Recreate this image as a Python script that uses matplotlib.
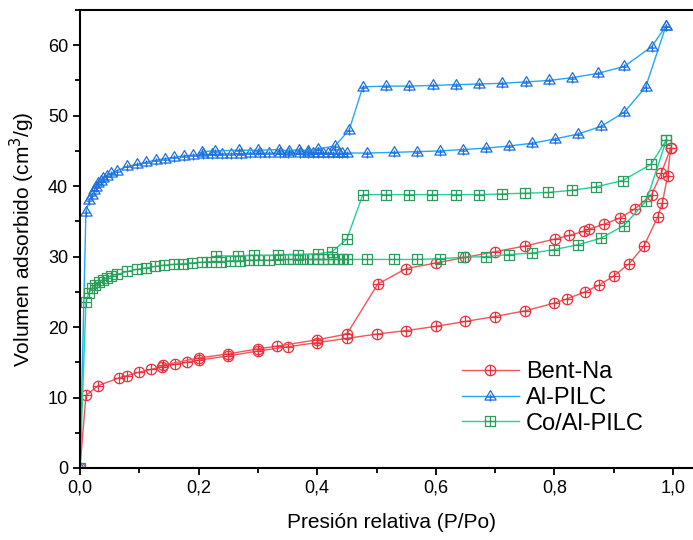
import matplotlib
import matplotlib.pyplot as plt
import numpy as np
from matplotlib.path import Path

matplotlib.use("Agg")

plt.rcParams["font.family"] = ["Liberation Sans", "DejaVu Sans"]

# Bent-Na
bent_ads_x = [0, 0.010, 0.031, 0.066, 0.079, 0.100, 0.120, 0.139, 0.160, 0.180, 0.200,
              0.250, 0.300, 0.350, 0.400, 0.450, 0.500, 0.550, 0.600, 0.650, 0.700,
              0.750, 0.800, 0.821, 0.852, 0.876, 0.901, 0.926, 0.951, 0.974, 0.982,
              0.991, 0.996]
bent_ads_y = [0, 10.3, 11.7, 12.8, 13.1, 13.6, 14.0, 14.4, 14.7, 15.0, 15.3,
              15.9, 16.6, 17.2, 17.8, 18.4, 19.0, 19.5, 20.1, 20.8, 21.5,
              22.3, 23.4, 24.0, 25.0, 26.0, 27.3, 29.0, 31.5, 35.6, 37.6,
              41.5, 45.4]
bent_des_x = [0.996, 0.980, 0.964, 0.936, 0.911, 0.884, 0.858, 0.850, 0.825, 0.801,
              0.750, 0.700, 0.650, 0.600, 0.550, 0.502, 0.450, 0.400, 0.333, 0.300,
              0.250, 0.200, 0.140]
bent_des_y = [45.4, 41.8, 38.8, 36.8, 35.5, 34.6, 33.9, 33.6, 33.0, 32.5,
              31.5, 30.7, 29.9, 29.1, 28.3, 26.1, 19.0, 18.2, 17.3, 16.9,
              16.2, 15.6, 14.6]

# Al-PILC
al_ads_x = [0, 0.010, 0.016, 0.020, 0.024, 0.027, 0.031, 0.035, 0.039, 0.045, 0.053,
            0.062, 0.080, 0.096, 0.112, 0.128, 0.143, 0.159, 0.175, 0.191, 0.207,
            0.223, 0.239, 0.255, 0.271, 0.287, 0.303, 0.319, 0.337, 0.351, 0.371,
            0.384, 0.393, 0.402, 0.410, 0.419, 0.427, 0.436, 0.441, 0.450, 0.484,
            0.530, 0.568, 0.607, 0.646, 0.685, 0.724, 0.763, 0.801, 0.840, 0.879,
            0.918, 0.954, 0.988]
al_ads_y = [0, 36.4, 38.0, 38.7, 39.4, 39.9, 40.4, 40.7, 41.1, 41.4, 41.8,
            42.2, 42.8, 43.1, 43.4, 43.7, 43.9, 44.1, 44.3, 44.4, 44.5,
            44.5, 44.6, 44.6, 44.6, 44.7, 44.7, 44.7, 44.7, 44.7, 44.7,
            44.7, 44.7, 44.7, 44.7, 44.7, 44.7, 44.7, 44.7, 44.7, 44.7,
            44.8, 44.9, 45.0, 45.2, 45.4, 45.7, 46.1, 46.7, 47.4, 48.5,
            50.5, 54.1, 62.7]
al_des_x = [0.988, 0.964, 0.918, 0.873, 0.830, 0.791, 0.752, 0.712, 0.673, 0.634,
            0.595, 0.555, 0.516, 0.477, 0.454, 0.430, 0.402, 0.385, 0.369, 0.352,
            0.336, 0.300, 0.268, 0.228, 0.205]
al_des_y = [62.7, 59.8, 57.0, 56.0, 55.4, 55.0, 54.8, 54.6, 54.5, 54.4,
            54.3, 54.2, 54.2, 54.1, 48.0, 45.7, 45.3, 45.0, 45.2, 45.0,
            45.2, 45.1, 45.1, 45.0, 44.9]

# Co/Al-PILC
co_ads_x = [0, 0.010, 0.015, 0.021, 0.026, 0.032, 0.038, 0.045, 0.053, 0.063, 0.080,
            0.096, 0.111, 0.126, 0.142, 0.158, 0.173, 0.189, 0.205, 0.221, 0.237,
            0.253, 0.269, 0.285, 0.301, 0.318, 0.337, 0.351, 0.360, 0.371, 0.382,
            0.393, 0.402, 0.410, 0.419, 0.427, 0.436, 0.444, 0.450, 0.484, 0.529,
            0.568, 0.607, 0.646, 0.684, 0.723, 0.762, 0.800, 0.840, 0.878, 0.917,
            0.955, 0.989]
co_ads_y = [0, 23.5, 24.9, 25.6, 26.0, 26.4, 26.7, 27.0, 27.3, 27.5, 27.9,
            28.2, 28.4, 28.6, 28.8, 28.9, 29.0, 29.1, 29.2, 29.3, 29.3,
            29.4, 29.4, 29.5, 29.5, 29.5, 29.6, 29.6, 29.6, 29.6, 29.6,
            29.6, 29.6, 29.6, 29.6, 29.6, 29.6, 29.6, 29.6, 29.6, 29.6,
            29.6, 29.7, 29.9, 30.0, 30.3, 30.5, 31.0, 31.7, 32.6, 34.4,
            37.9, 46.6]
co_des_x = [0.989, 0.963, 0.915, 0.870, 0.829, 0.789, 0.750, 0.712, 0.673, 0.634,
            0.594, 0.555, 0.516, 0.477, 0.450, 0.425, 0.401, 0.368, 0.334, 0.294,
            0.267, 0.229]
co_des_y = [46.6, 43.1, 40.8, 39.9, 39.4, 39.1, 39.0, 38.9, 38.8, 38.8,
            38.8, 38.8, 38.8, 38.8, 32.5, 30.7, 30.4, 30.3, 30.2, 30.2,
            30.1, 30.1]


def with_plus(base, k=0.6):
    # open marker with a plus sign inside
    plus = Path([(-k, 0), (k, 0), (0, -k), (0, k)],
                [Path.MOVETO, Path.LINETO, Path.MOVETO, Path.LINETO])
    return Path.make_compound_path(base, plus)


tri = Path([(0, 1), (-0.95, -0.6), (0.95, -0.6), (0, 1)],
           [Path.MOVETO, Path.LINETO, Path.LINETO, Path.CLOSEPOLY])
tri_plus = Path.make_compound_path(
    tri, Path([(-0.55, -0.1), (0.55, -0.1), (0, 0.35), (0, -0.85)],
              [Path.MOVETO, Path.LINETO, Path.MOVETO, Path.LINETO]))
circ_plus = with_plus(Path.unit_circle(), 1.0)
sq = Path([(-1, -1), (1, -1), (1, 1), (-1, 1), (-1, -1)],
          [Path.MOVETO, Path.LINETO, Path.LINETO, Path.LINETO, Path.CLOSEPOLY])
sq_plus = with_plus(sq, 1.0)

series = [
    ("Bent-Na", bent_ads_x, bent_ads_y, bent_des_x, bent_des_y,
     "#f4545a", "#e8323c", circ_plus, 7.5),
    ("Al-PILC", al_ads_x, al_ads_y, al_des_x, al_des_y,
     "#22a8f4", "#1f6fe0", tri_plus, 8.5),
    ("Co/Al-PILC", co_ads_x, co_ads_y, co_des_x, co_des_y,
     "#1fd495", "#2e9c5a", sq_plus, 7.0),
]

fig = plt.figure(figsize=(6.93, 5.4), dpi=100)
ax = fig.add_axes([80 / 693, 72 / 540, 1.05 * 593 / 693, 458 / 540])

for label, ax_x, ax_y, de_x, de_y, lc, mc, mk, ms in series:
    style = dict(color=lc, lw=1.0, marker=mk, markersize=ms,
                 markerfacecolor="none", markeredgecolor=mc, markeredgewidth=0.9)
    ax.plot(ax_x, ax_y, label=label, **style)
    ax.plot(de_x, de_y, **style)

ax.set_xlim(0, 1.05)
ax.set_ylim(0, 65)
ax.set_xticks([0, 0.2, 0.4, 0.6, 0.8, 1.0])
ax.set_xticklabels(["0,0", "0,2", "0,4", "0,6", "0,8", "1,0"])
ax.set_xticks(np.arange(0.1, 1.05, 0.2), minor=True)
ax.set_yticks([0, 10, 20, 30, 40, 50, 60])
ax.set_yticks([5, 15, 25, 35, 45, 55, 65], minor=True)
ax.tick_params(which="major", direction="out", length=5, width=1.3, labelsize=13)
ax.tick_params(which="minor", direction="out", length=3.5, width=1.3)
for sp in ax.spines.values():
    sp.set_linewidth(1.5)
# the frame runs past the right edge of the picture
ax.spines["right"].set_visible(False)

ax.set_xlabel("Presión relativa (P/Po)", fontsize=15, labelpad=12)
ax.set_ylabel("Volumen adsorbido (cm$^3$/g)", fontsize=15, labelpad=8)

ax.legend(loc="center left", bbox_to_anchor=(462 / 693, 1 - 398 / 540),
          bbox_transform=fig.transFigure, frameon=False, fontsize=17,
          numpoints=1, handlelength=2.4, handletextpad=0.3, labelspacing=0.15,
          borderpad=0, borderaxespad=0)

fig.savefig("out.png", dpi=100)
